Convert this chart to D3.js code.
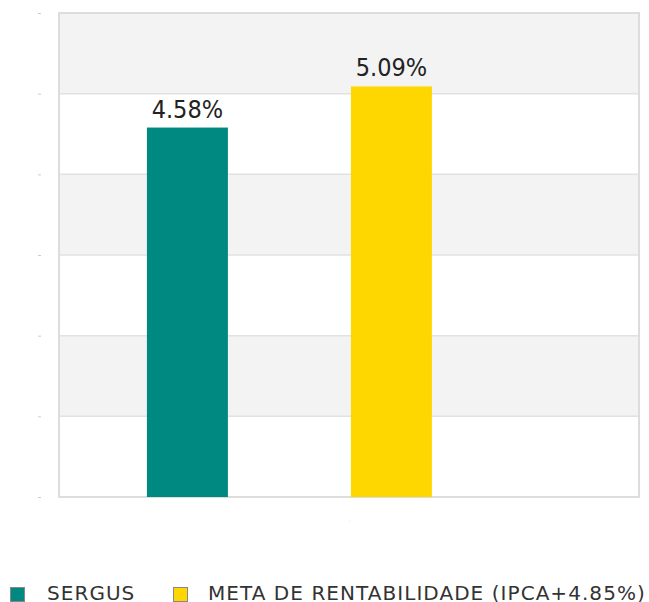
<!DOCTYPE html>
<html><head><meta charset="utf-8">
<script src="https://cdn.jsdelivr.net/npm/d3@7/dist/d3.min.js"></script>
<style>html,body{margin:0;padding:0;background:#fff;}svg{display:block;}</style>
</head><body>
<script>
const series = ["SERGUS", "META DE RENTABILIDADE (IPCA+4.85%)"];
const values = [4.58, 5.09];
const labels = ["4.58%", "5.09%"];
const colors = ["#008981", "#ffd700"];
const yTicks = [0, 1, 2, 3, 4, 5, 6];

const W = 649, H = 602;
const L = 59, R = 639, T = 13, B = 497;
const svg = d3.select("body").append("svg").attr("width", W).attr("height", H);

const y = d3.scaleLinear().domain([0, 6]).range([B, T]);
const x = d3.scaleBand().domain(series).range([L, R])
  .paddingInner(0.603).paddingOuter(0.723).align(0.298);

// alternating bands
const bands = d3.range(0, 6);
svg.selectAll("rect.band").data(bands).join("rect")
  .attr("x", L).attr("width", R - L)
  .attr("y", d => y(d + 1)).attr("height", d => y(d) - y(d + 1))
  .attr("fill", d => d % 2 === 1 ? "#f3f3f3" : "#ffffff");

// grid lines
svg.selectAll("line.grid").data(yTicks.slice(1, -1)).join("line")
  .attr("x1", L).attr("x2", R)
  .attr("y1", d => y(d)).attr("y2", d => y(d))
  .attr("stroke", "#e2e2e2").attr("stroke-width", 1.5);

// plot border
svg.append("rect").attr("x", L).attr("y", T).attr("width", R - L).attr("height", B - T)
  .attr("fill", "none").attr("stroke", "#dddddd").attr("stroke-width", 2);

// y axis tick marks (no labels)
const yAxis = d3.axisLeft(y).tickValues(yTicks).tickSize(3).tickFormat(() => "");
const gy = svg.append("g").attr("transform", `translate(41,0)`).call(yAxis);
gy.select(".domain").remove();
gy.selectAll(".tick line").attr("stroke", "#cccccc");

// x axis tiny tick
svg.append("line").attr("x1", (L + R) / 2).attr("x2", (L + R) / 2 + 1)
  .attr("y1", 521).attr("y2", 521).attr("stroke", "#e8e8e8").attr("stroke-width", 1);

// bars
svg.selectAll("rect.bar").data(series).join("rect")
  .attr("x", d => x(d)).attr("width", x.bandwidth())
  .attr("y", (d, i) => y(values[i])).attr("height", (d, i) => y(0) - y(values[i]))
  .attr("fill", (d, i) => colors[i]);

// value labels
svg.selectAll("text.val").data(series).join("text")
  .attr("x", d => x(d) + x.bandwidth() / 2)
  .attr("y", (d, i) => y(values[i]) - 10)
  .attr("text-anchor", "middle")
  .attr("font-family", "DejaVu Sans Condensed, DejaVu Sans")
  .attr("font-stretch", "condensed")
  .attr("font-weight", 300)
  .attr("font-size", 25)
  .attr("fill", "#222")
  .text((d, i) => labels[i]);

// legend
const legX = [10, 173];
const lg = svg.selectAll("g.leg").data(series).join("g")
  .attr("transform", (d, i) => `translate(${legX[i]},587)`);
lg.append("rect").attr("x", 0.5).attr("y", 0.5).attr("width", 14).attr("height", 14)
  .attr("fill", (d, i) => colors[i]).attr("stroke", "#888").attr("stroke-width", 1);
lg.append("text").attr("x", (d, i) => i === 0 ? 37 : 35).attr("y", 13)
  .attr("font-family", "DejaVu Sans").attr("font-size", 20)
  .attr("letter-spacing", 1.05).attr("fill", "#333")
  .text(d => d);
</script>
</body></html>
